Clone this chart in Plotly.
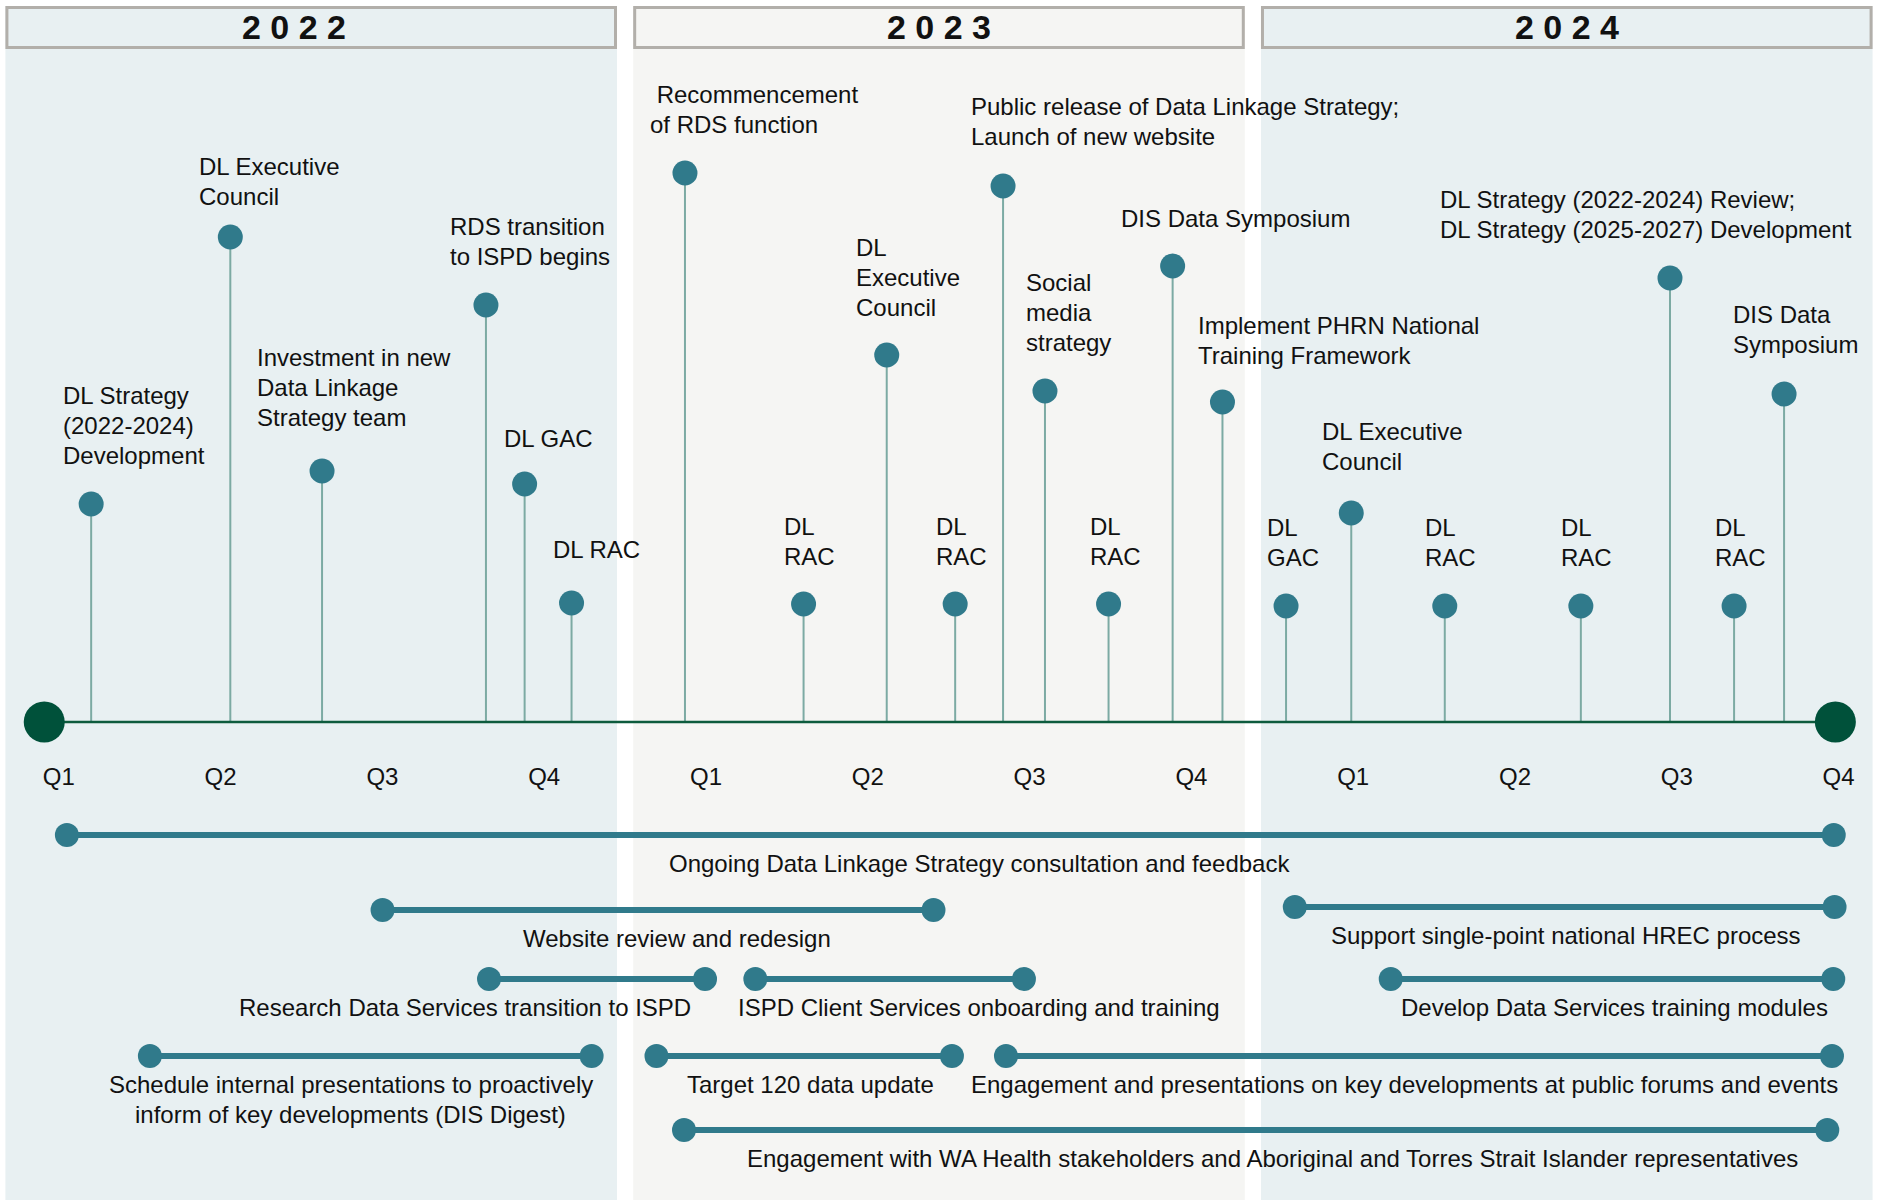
import plotly.graph_objects as go

# ---------------- data ----------------
# x positions are in quarter units: 0 = Q1 2022, 1 = Q2 2022, ... 11 = Q4 2024
years = ["2022", "2023", "2024"]
year_start = [-0.33, 3.55, 7.43]
year_end = [3.45, 7.33, 11.21]

quarter_pos = list(range(12))
quarter_labels = ["Q1", "Q2", "Q3", "Q4"] * 3

timeline_start = -0.09
timeline_end = 10.98

event_lines = [
    ["DL Strategy", "(2022-2024)", "Development"],
    ["DL Executive", "Council"],
    ["Investment in new", "Data Linkage", "Strategy team"],
    ["RDS transition", "to ISPD begins"],
    ["DL GAC"],
    ["DL RAC"],
    ["\u00a0Recommencement", "of RDS function"],
    ["DL", "RAC"],
    ["DL", "Executive", "Council"],
    ["DL", "RAC"],
    ["Public release of Data Linkage Strategy;", "Launch of new website"],
    ["Social", "media", "strategy"],
    ["DL", "RAC"],
    ["DIS Data Symposium"],
    ["Implement PHRN National", "Training Framework"],
    ["DL", "GAC"],
    ["DL Executive", "Council"],
    ["DL", "RAC"],
    ["DL", "RAC"],
    ["DL Strategy (2022-2024) Review;", "DL Strategy (2025-2027) Development"],
    ["DL", "RAC"],
    ["DIS Data", "Symposium"],
]
event_q = [0.20, 1.06, 1.627, 2.640, 2.879, 3.169, 3.870, 4.603, 5.117, 5.540, 5.836,
           6.095, 6.488, 6.884, 7.192, 7.585, 7.988, 8.566, 9.407, 9.958, 10.354, 10.663]
event_h = [2.18, 4.85, 2.51, 4.17, 2.38, 1.19, 5.49, 1.18, 3.67, 1.18, 5.36,
           3.31, 1.18, 4.56, 3.20, 1.16, 2.09, 1.16, 1.16, 4.44, 1.16, 3.28]

bar_labels = [
    ["Ongoing Data Linkage Strategy consultation and feedback"],
    ["Website review and redesign"],
    ["Research Data Services transition to ISPD"],
    ["ISPD Client Services onboarding and training"],
    ["Schedule internal presentations to proactively", "inform of key developments (DIS Digest)"],
    ["Target 120 data update"],
    ["Engagement and presentations on key developments at public forums and events"],
    ["Engagement with WA Health stakeholders and Aboriginal and Torres Strait Islander representatives"],
    ["Support single-point national HREC process"],
    ["Develop Data Services training modules"],
]
bar_start = [0.05, 2.001, 2.659, 4.305, 0.563, 3.694, 5.854, 3.864, 7.639, 8.232]
bar_end = [10.97, 5.406, 3.994, 5.965, 3.293, 5.520, 10.959, 10.930, 10.975, 10.967]
bar_row = [-1.13, -1.88, -2.57, -2.57, -3.34, -3.34, -3.34, -4.08, -1.85, -2.57]

# ---------------- styling / layout config ----------------
W, H = 1881, 1200
X0_PX, Q_PX = 58.8, 161.8          # pixel of Q1 2022, pixels per quarter
AXIS_PX = 722                       # pixel row of the timeline
PX_PER_UNIT = 100.0

FONT = "Liberation Sans, Arial, Helvetica, sans-serif"
TEXT_COLOR = "#111111"
TEAL = "#307a8b"
STEM = "#7caaa3"
AXIS_COLOR = "#0d5b3d"
BIG_DOT = "#00513a"
PANEL_COLORS = ["#e8f0f2", "#f5f5f3", "#e8f0f2"]
HEADER_BORDER = "#b2afaa"

event_label_dx = [-28, -31, -65, -35, -20, -18, -34.5, -19, -30, -19, -32,
                  -18, -18.5, -51, -24, -19, -29, -19, -19, -229.6, -19, -51]
EVENT_DX_ADJ = -2.5
event_label_gap = [48, 40, 53, 48, 45, 53, 48, 47, 47, 47, 49,
                   48, 47, 47, 46, 48, 51, 48, 48, 47.5, 48, 49]
EVENT_GAP_ADJ = 1
LINE_STEP = 30
bar_label_dx = [28.7, 19, -132.5, 89, -20, 6, -14, 17, 1, 2]
BAR_LABEL_GAP = 28
header_dx = [-17, 0, 0]

x_range = [-X0_PX / Q_PX, (W - X0_PX) / Q_PX]
y_range = [-(H - AXIS_PX) / PX_PER_UNIT, AXIS_PX / PX_PER_UNIT]

fig = go.Figure()

# stems
sx, sy = [], []
for q, h in zip(event_q, event_h):
    sx += [q, q, None]
    sy += [0, h, None]
fig.add_trace(go.Scatter(x=sx, y=sy, mode="lines",
                         line=dict(color=STEM, width=2), hoverinfo="skip"))

# timeline
fig.add_trace(go.Scatter(x=[timeline_start, timeline_end], y=[0, 0], mode="lines",
                         line=dict(color=AXIS_COLOR, width=2.5), hoverinfo="skip"))
fig.add_trace(go.Scatter(x=[timeline_start, timeline_end], y=[0, 0], mode="markers",
                         marker=dict(color=BIG_DOT, size=41, line=dict(width=0)),
                         hoverinfo="skip"))

# event dots
fig.add_trace(go.Scatter(x=event_q, y=event_h, mode="markers",
                         marker=dict(color=TEAL, size=25, line=dict(width=0)),
                         hoverinfo="skip"))

# duration bars
bx, by = [], []
for s, e, r in zip(bar_start, bar_end, bar_row):
    bx += [s, e, None]
    by += [r, r, None]
fig.add_trace(go.Scatter(x=bx, y=by, mode="lines+markers",
                         line=dict(color=TEAL, width=6),
                         marker=dict(color=TEAL, size=24, line=dict(width=0)),
                         hoverinfo="skip"))

shapes = []
annotations = []

# year panels and headers
for i, yr in enumerate(years):
    shapes.append(dict(type="rect", xref="x", yref="paper",
                       x0=year_start[i], x1=year_end[i], y0=0, y1=1 - 6 / H,
                       fillcolor=PANEL_COLORS[i], line=dict(width=0), layer="below"))
    shapes.append(dict(type="rect", xref="x", yref="paper",
                       x0=year_start[i] + 1.5 / Q_PX, x1=year_end[i] - 1.5 / Q_PX,
                       y0=1 - 47.5 / H, y1=1 - 7.5 / H,
                       fillcolor=PANEL_COLORS[i], line=dict(width=3, color=HEADER_BORDER),
                       layer="below"))
    annotations.append(dict(x=(year_start[i] + year_end[i]) / 2, y=1 - 26.7 / H,
                            xref="x", yref="paper", text=" ".join(yr), showarrow=False,
                            xanchor="center", yanchor="middle", xshift=header_dx[i],
                            font=dict(family=FONT, size=34, color=TEXT_COLOR, weight="bold")))

# event labels
for lines, q, h, dx, gap in zip(event_lines, event_q, event_h, event_label_dx, event_label_gap):
    n = len(lines)
    for j, t in enumerate(lines):
        annotations.append(dict(x=q, y=h, xref="x", yref="y", text=t, showarrow=False,
                                xanchor="left", yanchor="middle", xshift=dx + EVENT_DX_ADJ,
                                yshift=gap + EVENT_GAP_ADJ + (n - 1 - j) * LINE_STEP,
                                font=dict(family=FONT, size=24, color=TEXT_COLOR)))

# bar labels
for lines, s, e, r, dx in zip(bar_labels, bar_start, bar_end, bar_row, bar_label_dx):
    for j, t in enumerate(lines):
        annotations.append(dict(x=(s + e) / 2, y=r, xref="x", yref="y", text=t, showarrow=False,
                                xanchor="center", yanchor="middle", xshift=dx,
                                yshift=-(BAR_LABEL_GAP + j * LINE_STEP),
                                font=dict(family=FONT, size=24, color=TEXT_COLOR)))

fig.update_layout(
    width=W, height=H,
    margin=dict(l=0, r=0, t=0, b=0),
    paper_bgcolor="white", plot_bgcolor="white",
    showlegend=False, hovermode=False,
    shapes=shapes, annotations=annotations,
    xaxis=dict(range=x_range, tickvals=quarter_pos, ticktext=quarter_labels,
               showgrid=False, zeroline=False, showline=False,
               ticks="outside", ticklen=33, tickcolor="rgba(0,0,0,0)",
               tickfont=dict(family=FONT, size=24, color=TEXT_COLOR),
               anchor="free", position=1 - AXIS_PX / H, fixedrange=True),
    yaxis=dict(range=y_range, visible=False, fixedrange=True),
)

fig.write_html(
    "out.html",
    config={"displayModeBar": False},
    post_script="document.body.style.margin='0';document.body.style.overflow='hidden';",
)
